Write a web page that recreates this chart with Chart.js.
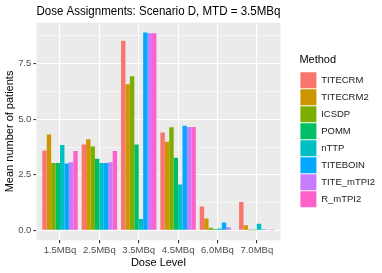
<!DOCTYPE html>
<html>
<head>
<meta charset="utf-8">
<script src="https://cdn.jsdelivr.net/npm/chart.js@4"></script>
<style>
  html, body { margin: 0; padding: 0; background: #fff; }
  #wrap { width: 382px; height: 273px; }
</style>
</head>
<body>
<div id="wrap"><canvas id="myChart" width="382" height="273"></canvas></div>
<script>
const doseLevels = ['1.5MBq', '2.5MBq', '3.5MBq', '4.5MBq', '6.0MBq', '7.0MBq'];
const methods = ['TITECRM', 'TITECRM2', 'ICSDP', 'POMM', 'nTTP', 'TITEBOIN', 'TITE_mTPI2', 'R_mTPI2'];
const colors = ['#F8766D', '#CD9600', '#7CAE00', '#00BE67', '#00BFC4', '#00A9FF', '#C77CFF', '#FF61CC'];

// mean number of patients per dose level, one array per method
const titecrm   = [3.60, 3.87, 8.53, 4.41, 1.08, 1.28];
const titecrm2  = [4.31, 4.10, 6.58, 3.99, 0.54, 0.23];
const icsdp     = [3.03, 3.78, 6.94, 4.64, 0.12, 0.01];
const pomm      = [3.03, 3.22, 3.86, 3.27, 0.06, 0.01];
const nttp      = [3.84, 3.03, 0.51, 2.06, 0.09, 0.30];
const titeboin  = [3.01, 3.03, 8.90, 4.71, 0.36, 0.05];
const titeMtpi2 = [3.07, 3.07, 8.87, 4.65, 0.14, 0.02];
const rMtpi2    = [3.57, 3.57, 8.87, 4.65, 0.03, 0.01];

const yTicks = [0, 1.25, 2.5, 3.75, 5, 6.25, 7.5, 8.75];

const seriesData = [titecrm, titecrm2, icsdp, pomm, nttp, titeboin, titeMtpi2, rMtpi2];

const isMajor = v => Math.abs(v / 2.5 - Math.round(v / 2.5)) < 1e-6;
const FONT = '"Liberation Sans", Arial, sans-serif';

// grey panel like ggplot
const panelBg = {
  id: 'panelBg',
  beforeDraw(chart) {
    const a = chart.chartArea, c = chart.ctx;
    c.save();
    c.fillStyle = '#EBEBEB';
    c.fillRect(a.left, a.top, a.right - a.left, a.bottom - a.top);
    c.restore();
  },
  afterLayout(chart) {
    // nudge legend away from the panel
    chart.legend.left += 19;
    chart.legend.right += 19;
  }
};

const ctx = document.getElementById('myChart').getContext('2d');
const myChart = new Chart(ctx, {
  type: 'bar',
  data: {
    datasets: methods.map((m, i) => ({
      label: m,
      data: seriesData[i].map((v, j) => ({ x: j + 1, y: v })),
      backgroundColor: colors[i],
      borderWidth: 0,
      categoryPercentage: 0.9,
      barPercentage: 1.0
    }))
  },
  options: {
    responsive: false,
    animation: false,
    layout: { padding: { left: 3, right: 16, top: 2, bottom: 3 } },
    plugins: {
      title: {
        display: true,
        text: 'Dose Assignments: Scenario D, MTD = 3.5MBq',
        align: 'start',
        fullSize: false,
        color: '#000',
        font: { size: 13, weight: 'normal', family: FONT },
        padding: { top: 2, bottom: 3 }
      },
      legend: {
        position: 'right',
        align: 'start',
        title: {
          display: true,
          text: 'Method',
          position: 'start',
          color: '#000',
          font: { size: 11, family: FONT },
          padding: { top: 52, bottom: 4 }
        },
        labels: {
          boxWidth: 16,
          boxHeight: 16,
          padding: 1,
          color: '#1a1a1a',
          font: { size: 9.5, family: FONT }
        }
      },
      tooltip: { enabled: false }
    },
    scales: {
      x: {
        type: 'linear',
        min: 0.4,
        max: 6.6,
        offset: false,
        afterBuildTicks: scale => { scale.ticks = doseLevels.map((d, i) => ({ value: i + 1 })); },
        grid: {
          offset: false,
          color: '#fff',
          lineWidth: 1.1,
          tickLength: 3,
          tickColor: '#333'
        },
        border: { display: false },
        ticks: {
          autoSkip: false,
          maxRotation: 0,
          color: '#4d4d4d',
          padding: 2,
          font: { size: 9.5, family: FONT, lineHeight: 1 },
          callback: v => doseLevels[Math.round(v) - 1]
        },
        title: {
          display: true,
          text: 'Dose Level',
          color: '#000',
          padding: { top: 0, bottom: 0 },
          font: { size: 11, family: FONT }
        }
      },
      y: {
        min: -0.445,
        max: 9.35,
        afterBuildTicks: scale => { scale.ticks = yTicks.map(v => ({ value: v })); },
        grid: {
          color: '#fff',
          lineWidth: c => isMajor(c.tick.value) ? 1.1 : 0.5,
          tickLength: 3,
          tickColor: c => isMajor(c.tick.value) ? '#333' : 'rgba(0,0,0,0)'
        },
        border: { display: false },
        ticks: {
          autoSkip: false,
          color: '#4d4d4d',
          padding: 2,
          font: { size: 9.5, family: FONT },
          callback: v => isMajor(v) ? v.toFixed(1) : ''
        },
        title: {
          display: true,
          text: 'Mean number of patients',
          color: '#000',
          padding: { top: 0, bottom: 0 },
          font: { size: 11, family: FONT }
        }
      }
    }
  },
  plugins: [panelBg]
});
</script>
</body>
</html>
